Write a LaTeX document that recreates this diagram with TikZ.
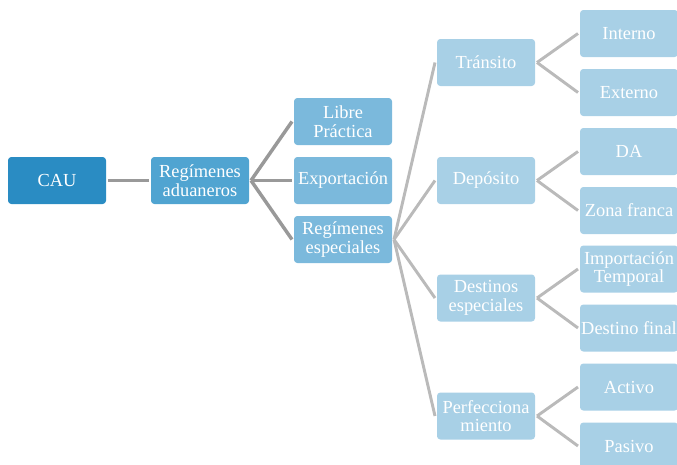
\documentclass[tikz,border=0pt]{standalone}
\usepackage{fontspec}
\setmainfont{Liberation Serif}
\usepackage{tikz}
\definecolor{caublue}{HTML}{2A8CC3}
\definecolor{lvlone}{HTML}{50A4D1}
\definecolor{lvltwo}{HTML}{7BB9DC}
\definecolor{lvlthree}{HTML}{A8D0E6}
\newcommand{\boxwidth}{73.5pt}
\newcommand{\boxheight}{35.25pt}
\tikzstyle{item}=[rounded corners=2.5pt, inner sep=0, outer sep=1.5pt, minimum width=\boxwidth, minimum height=\boxheight,
                  text=white, align=center, font=\fontsize{13.8}{14}\selectfont]
\tikzstyle{rootitem}=[item, fill=caublue]
\tikzstyle{firstitem}=[item, fill=lvlone]
\tikzstyle{seconditem}=[item, fill=lvltwo]
\tikzstyle{thirditem}=[item, fill=lvlthree]
\tikzstyle{link}=[draw=black!40, line width=2.6pt]
\tikzstyle{sublink}=[draw=black!27, line width=2.2pt]
\begin{document}
\begin{tikzpicture}[x=0.75pt, y=-0.75pt]
        \useasboundingbox (0, 0) rectangle (677, 464);
        \node[rootitem] (CAU) at (57, 180.5) {CAU};
        \node[firstitem] (RegAdu) at (200, 180.5) {Regímenes\\aduaneros};
        \node[seconditem] (Libre) at (343, 121.5) {Libre\\Práctica};
        \node[seconditem] (Export) at (343, 180.5) {Exportación};
        \node[seconditem] (RegEsp) at (343, 239.5) {Regímenes\\especiales};
        \node[thirditem] (Transito) at (486, 62.5) {Tránsito};
        \node[thirditem] (Deposito) at (486, 180.5) {Depósito};
        \node[thirditem] (Destinos) at (486, 298) {Destinos\\especiales};
        \node[thirditem] (Perfec) at (486, 416) {Perfecciona\\miento};
        \node[thirditem] (Interno) at (629, 33.5) {Interno};
        \node[thirditem] (Externo) at (629, 92.5) {Externo};
        \node[thirditem] (DA) at (629, 151.5) {DA};
        \node[thirditem] (Zona) at (629, 210.5) {Zona franca};
        \node[thirditem] (Import) at (629, 269) {Importación\\Temporal};
        \node[thirditem] (DestFin) at (629, 328) {Destino final};
        \node[thirditem] (Activo) at (629, 387) {Activo};
        \node[thirditem] (Pasivo) at (629, 446) {Pasivo};
        \draw[link] (CAU.east) -- (RegAdu.west);
        \draw[link] (RegAdu.east) -- (Libre.west);
        \draw[link] (RegAdu.east) -- (Export.west);
        \draw[link] (RegAdu.east) -- (RegEsp.west);
        \draw[sublink] (RegEsp.east) -- (Transito.west);
        \draw[sublink] (RegEsp.east) -- (Deposito.west);
        \draw[sublink] (RegEsp.east) -- (Destinos.west);
        \draw[sublink] (RegEsp.east) -- (Perfec.west);
        \draw[sublink] (Transito.east) -- (Interno.west);
        \draw[sublink] (Transito.east) -- (Externo.west);
        \draw[sublink] (Deposito.east) -- (DA.west);
        \draw[sublink] (Deposito.east) -- (Zona.west);
        \draw[sublink] (Destinos.east) -- (Import.west);
        \draw[sublink] (Destinos.east) -- (DestFin.west);
        \draw[sublink] (Perfec.east) -- (Activo.west);
        \draw[sublink] (Perfec.east) -- (Pasivo.west);
    \end{tikzpicture}
\end{document}
